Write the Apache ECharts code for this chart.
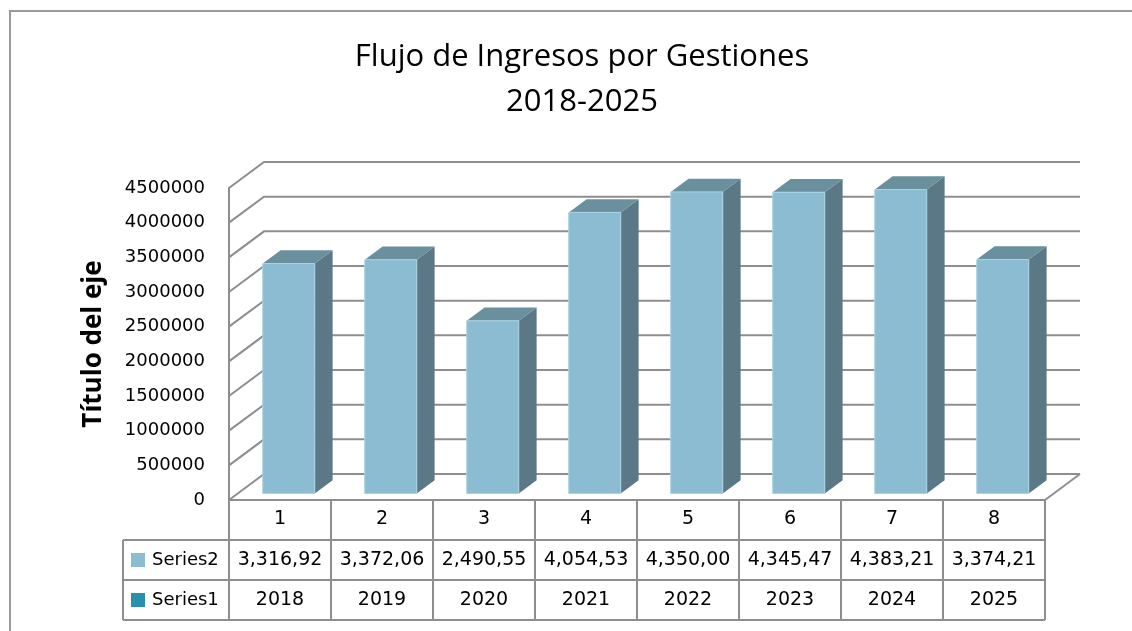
<!DOCTYPE html>
<html>
<head>
<meta charset="utf-8">
<script src="https://cdn.jsdelivr.net/npm/echarts@6/dist/echarts.min.js"></script>
<style>
  html, body { margin: 0; padding: 0; background: #fff; }
  #chart { width: 1132px; height: 631px; }
</style>
</head>
<body>
<div id="chart"></div>
<script>
// data
var categories = ['1', '2', '3', '4', '5', '6', '7', '8'];
var series2Values = [3316920, 3372060, 2490550, 4054530, 4350000, 4345470, 4383210, 3374210];
var series2Labels = ['3,316,92', '3,372,06', '2,490,55', '4,054,53', '4,350,00', '4,345,47', '4,383,21', '3,374,21'];
var series1Labels = ['2018', '2019', '2020', '2021', '2022', '2023', '2024', '2025'];
var yTicks = [0, 500000, 1000000, 1500000, 2000000, 2500000, 3000000, 3500000, 4000000, 4500000];

var myChart = echarts.init(document.getElementById('chart'));

// 3d look
var DX = 35, DY = -26;         // depth of the back wall
var F1 = 0.25, F2 = 0.76;      // front / back of the bars inside that depth
var GRID_COLOR = '#8e8e8e';
var FONT = 'DejaVu Sans';
var ROW_H = 40;
var LEG_LEFT = 123;

var frontColor = '#8bbcd1';
var sideColor = '#5a7885';
var topColor = '#6a909e';
var series1Color = '#2a8fab';

function renderGrid(params, api) {
  var cs = params.coordSys;
  var y = api.coord([0, api.value(1)])[1];
  var children = [{
    type: 'polyline',
    shape: { points: [[cs.x, y], [cs.x + DX, y + DY], [cs.x + cs.width + DX, y + DY]] },
    style: { stroke: GRID_COLOR, lineWidth: 2, fill: null }
  }];
  if (params.dataIndex === 0) {
    children.push({
      type: 'line',
      shape: { x1: cs.x + cs.width, y1: y, x2: cs.x + cs.width + DX, y2: y + DY },
      style: { stroke: GRID_COLOR, lineWidth: 2 }
    });
  }
  return { type: 'group', children: children };
}

function renderBar(params, api) {
  var cat = api.value(0);
  var base = api.coord([cat, 0]);
  var top = api.coord([cat, api.value(1)]);
  var band = api.size([1, 0])[0];
  var w = band * 0.51;
  var x0 = base[0] - w / 2 + DX * F1;
  var x1 = x0 + w;
  var yb = base[1] + DY * F1;
  var yt = top[1] + DY * F1;
  var ddx = DX * (F2 - F1), ddy = DY * (F2 - F1);
  return {
    type: 'group',
    children: [{
      type: 'polygon',
      shape: { points: [[x1, yb], [x1 + ddx, yb + ddy], [x1 + ddx, yt + ddy], [x1, yt]] },
      style: { fill: sideColor }
    }, {
      type: 'polygon',
      shape: { points: [[x0, yt], [x1, yt], [x1 + ddx, yt + ddy], [x0 + ddx, yt + ddy]] },
      style: { fill: topColor }
    }, {
      type: 'rect',
      shape: { x: x0, y: yt, width: w, height: yb - yt },
      style: { fill: frontColor, stroke: '#a9d3e3', lineWidth: 1 }
    }]
  };
}

function renderTable(params, api) {
  var cs = params.coordSys;
  var x = api.coord([api.value(0), 0])[0];
  var yTop = cs.y + cs.height;
  var i = params.dataIndex;
  return {
    type: 'group',
    children: [{
      type: 'text',
      style: {
        text: series2Labels[i], x: x, y: yTop + ROW_H * 1.5,
        align: 'center', verticalAlign: 'middle',
        font: '19px "' + FONT + '"', fill: '#000'
      }
    }, {
      type: 'text',
      style: {
        text: series1Labels[i], x: x, y: yTop + ROW_H * 2.5,
        align: 'center', verticalAlign: 'middle',
        font: '19px "' + FONT + '"', fill: '#000'
      }
    }]
  };
}

var gridLeft = 229, gridRight = 87, gridTop = 188, gridBottom = 131;
var gridRightX = 1132 - gridRight;
var tableTop = 631 - gridBottom;

var option = {
  backgroundColor: '#fff',
  animation: false,
  title: {
    text: 'Flujo de Ingresos por Gestiones\n2018-2025',
    left: 577,
    top: 30,
    textAlign: 'center',
    textStyle: {
      fontFamily: 'Open Sans',
      fontSize: 31,
      fontWeight: 500,
      color: '#000',
      lineHeight: 45
    }
  },
  grid: { left: gridLeft, right: gridRight, top: gridTop, bottom: gridBottom },
  xAxis: {
    type: 'category',
    data: categories,
    axisLine: { show: true, lineStyle: { color: GRID_COLOR, width: 2 } },
    axisTick: { show: true, length: ROW_H * 3, interval: 0, lineStyle: { color: GRID_COLOR, width: 2 } },
    axisLabel: { margin: 10, fontFamily: FONT, fontSize: 19, color: '#000' },
    splitLine: { show: false }
  },
  yAxis: {
    type: 'value',
    min: 0,
    max: 4500000,
    interval: 500000,
    name: 'Título del eje',
    nameLocation: 'middle',
    nameGap: 122,
    nameTextStyle: { fontFamily: 'Open Sans', fontSize: 26, fontWeight: 'bold', color: '#000' },
    axisLine: { show: true, lineStyle: { color: GRID_COLOR, width: 2 } },
    axisTick: { show: false },
    axisLabel: {
      margin: 24, fontFamily: FONT, fontSize: 18, color: '#000',
      formatter: function (v) { return String(v); }
    },
    splitLine: { show: false }
  },
  graphic: [
    // outer chart frame
    { type: 'rect', shape: { x: 10, y: 11, width: 1200, height: 700 }, style: { fill: null, stroke: '#9a9a9a', lineWidth: 2 } },
    // table lines
    { type: 'line', shape: { x1: LEG_LEFT, y1: tableTop + ROW_H, x2: gridRightX, y2: tableTop + ROW_H }, style: { stroke: GRID_COLOR, lineWidth: 2 } },
    { type: 'line', shape: { x1: LEG_LEFT, y1: tableTop + ROW_H * 2, x2: gridRightX, y2: tableTop + ROW_H * 2 }, style: { stroke: GRID_COLOR, lineWidth: 2 } },
    { type: 'line', shape: { x1: LEG_LEFT, y1: tableTop + ROW_H * 3, x2: gridRightX, y2: tableTop + ROW_H * 3 }, style: { stroke: GRID_COLOR, lineWidth: 2 } },
    { type: 'line', shape: { x1: LEG_LEFT, y1: tableTop + ROW_H, x2: LEG_LEFT, y2: tableTop + ROW_H * 3 }, style: { stroke: GRID_COLOR, lineWidth: 2 } },
    // legend keys
    { type: 'rect', shape: { x: 131, y: tableTop + ROW_H * 1.5 - 7, width: 14, height: 14 }, style: { fill: frontColor } },
    { type: 'text', style: { text: 'Series2', x: 152, y: tableTop + ROW_H * 1.5, verticalAlign: 'middle', font: '18px "' + FONT + '"', fill: '#000' } },
    { type: 'rect', shape: { x: 131, y: tableTop + ROW_H * 2.5 - 7, width: 14, height: 14 }, style: { fill: series1Color } },
    { type: 'text', style: { text: 'Series1', x: 152, y: tableTop + ROW_H * 2.5, verticalAlign: 'middle', font: '18px "' + FONT + '"', fill: '#000' } }
  ],
  series: [{
    name: 'grid',
    type: 'custom',
    renderItem: renderGrid,
    clip: false,
    silent: true,
    z: 1,
    data: yTicks.map(function (v) { return [0, v]; })
  }, {
    name: 'Series2',
    type: 'custom',
    renderItem: renderBar,
    clip: false,
    z: 3,
    data: series2Values.map(function (v, i) { return [i, v]; })
  }, {
    name: 'table',
    type: 'custom',
    renderItem: renderTable,
    clip: false,
    silent: true,
    z: 3,
    data: series2Values.map(function (v, i) { return [i, v]; })
  }]
};

myChart.setOption(option);
</script>
</body>
</html>
